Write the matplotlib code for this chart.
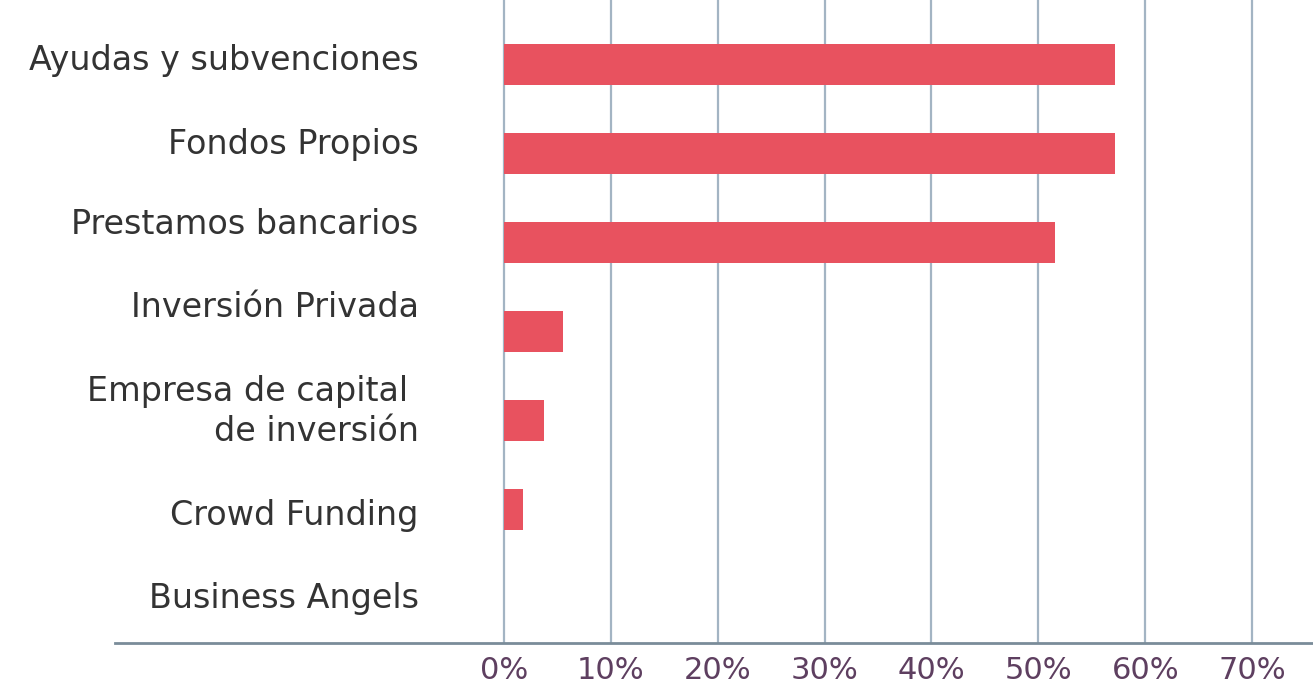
import matplotlib.pyplot as plt

# Data
categories = ['Ayudas y subvenciones', 'Fondos Propios', 'Prestamos bancarios',
              'Inversión Privada', 'Empresa de capital \nde inversión',
              'Crowd Funding', 'Business Angels']
values = [57.2, 57.2, 51.6, 5.5, 3.7, 1.8, 0.0]
ticks = [0, 10, 20, 30, 40, 50, 60, 70]
tick_labels = [f'{t}%' for t in ticks]

# the labels in the original are not exactly centred on their bars
label_shift = [-0.04, -0.1, -0.2, -0.27, -0.1, 0.07, 0.0]

bar_color = '#e8525f'
grid_color = '#a3b4c3'
axis_color = '#7a8c99'
label_color = '#333333'
tick_color = '#5e3f60'

fig = plt.figure(figsize=(13.13, 6.9), dpi=100)
ax = fig.add_axes([0.0876, 0.068, 0.9124, 0.932])

ypos = list(range(len(categories)))
ax.barh(ypos, values, height=0.46, color=bar_color, zorder=3)

# vertical gridlines only at the tick positions
for t in ticks:
    ax.axvline(t, color=grid_color, lw=1.6, zorder=1)

ax.set_xlim(-36.4, 75.7)
ax.set_ylim(6.5, -0.72)

# category labels sit inside the axes, right-aligned before 0%
for y, cat, dy in zip(ypos, categories, label_shift):
    ax.text(-8.0, y + dy, cat, ha='right', va='center', fontsize=24,
            color=label_color, multialignment='right', linespacing=1.25)

ax.set_xticks(ticks)
ax.set_xticklabels(tick_labels, fontsize=22, color=tick_color)
ax.tick_params(axis='x', length=0, pad=9)
ax.set_yticks([])

for side in ['top', 'right', 'left']:
    ax.spines[side].set_visible(False)
ax.spines['bottom'].set_color(axis_color)
ax.spines['bottom'].set_linewidth(2)

fig.savefig('out.png', dpi=100)
